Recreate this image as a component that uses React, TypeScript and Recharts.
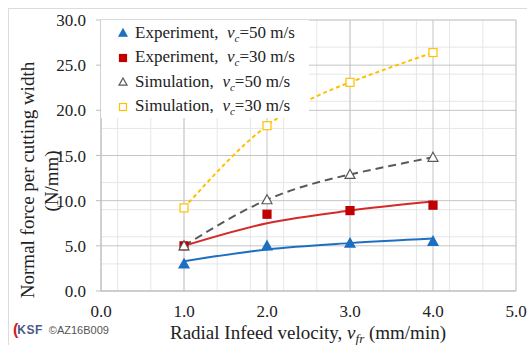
import React from "react";
import { ComposedChart, Line, XAxis, YAxis, CartesianGrid, Legend } from "recharts";

const velocities = [1, 2, 3, 4];
const exp50 = [3.0, 5.0, 5.3, 5.5];
const exp30 = [5.0, 8.5, 8.9, 9.5];
const sim50 = [5.0, 10.1, 12.9, 14.8];
const sim30 = [9.2, 18.3, 23.1, 26.4];
const fit50 = [3.3, 4.6, 5.3, 5.8];
const fit30 = [5.0, 7.5, 8.9, 9.9];
const xTicks = [0, 1, 2, 3, 4, 5];
const yTicks = [0, 5, 10, 15, 20, 25, 30];
const xMinor = Array.from({ length: 26 }, (_, i) => i * 0.2);
const yMinor = Array.from({ length: 31 }, (_, i) => i);

const data = velocities.map((x, i) => ({
  x,
  exp50: exp50[i],
  exp30: exp30[i],
  sim50: sim50[i],
  sim30: sim30[i],
  fit50: fit50[i],
  fit30: fit30[i],
}));

const FONT = "'Liberation Serif', 'Times New Roman', serif";
const BLUE = "#1f6fc0";
const RED = "#c00000";
const RED_LINE = "#d42a2a";
const GRAY = "#595959";
const YELLOW = "#ffc000";

const tri = (cx: number, cy: number, r: number) =>
  `M${cx},${cy - r} L${cx + r},${cy + r * 0.8} L${cx - r},${cy + r * 0.8} Z`;

const TriDot = (props: any) => {
  const { cx, cy, index, hollow, color } = props;
  if (cx == null || cy == null) return <g key={index} />;
  return (
    <path
      key={index}
      d={tri(cx, cy, 5)}
      fill={hollow ? "#fff" : color}
      stroke={color}
      strokeWidth={1.2}
    />
  );
};

const SqDot = (props: any) => {
  const { cx, cy, index, hollow, color } = props;
  if (cx == null || cy == null) return <g key={index} />;
  return (
    <rect
      key={index}
      x={cx - 4}
      y={cy - 4}
      width={8}
      height={8}
      fill={hollow ? "#fff" : color}
      stroke={color}
      strokeWidth={1.2}
    />
  );
};

const legendRows = [
  { name: "Experiment,", vc: "50", shape: "tri", hollow: false, color: BLUE },
  { name: "Experiment,", vc: "30", shape: "sq", hollow: false, color: RED },
  { name: "Simulation,", vc: "50", shape: "tri", hollow: true, color: GRAY },
  { name: "Simulation,", vc: "30", shape: "sq", hollow: true, color: YELLOW },
];

const LegendBox = () => (
  <div
    style={{
      width: 208,
      height: 98,
      background: "#fff",
      fontFamily: FONT,
      fontSize: 17,
      color: "#222",
      paddingTop: 1,
      boxSizing: "border-box",
    }}
  >
    {legendRows.map((r, i) => (
      <div key={i} style={{ height: 24.5, display: "flex", alignItems: "center", whiteSpace: "pre" }}>
        <svg width={34} height={14} style={{ flexShrink: 0 }}>
          {r.shape === "tri" ? (
            <path d={tri(22, 7, 4)} fill={r.hollow ? "#fff" : r.color} stroke={r.color} strokeWidth={1.2} />
          ) : (
            <rect x={18.5} y={3.5} width={7} height={7} fill={r.hollow ? "#fff" : r.color} stroke={r.color} strokeWidth={1.2} />
          )}
        </svg>
        <span>
          {r.name + "  "}
          <i>v</i>
          <sub style={{ fontSize: 11, fontStyle: "italic" }}>c</sub>={r.vc} m/s
        </span>
      </div>
    ))}
  </div>
);

const YTitle = () => (
  <g fontFamily={FONT} fontSize={19} fill="#222">
    <text x={27} y={180} textAnchor="middle" dominantBaseline="central" transform="rotate(-90 27 180)">
      Normal  force per cutting width
    </text>
    <text x={51} y={181} textAnchor="middle" dominantBaseline="central" transform="rotate(-90 51 181)">
      (N/mm)
    </text>
  </g>
);

const XTitle = () => (
  <text x={308} y={339} textAnchor="middle" fontFamily={FONT} fontSize={19} fill="#222">
    Radial Infeed velocity, <tspan fontStyle="italic">v</tspan>
    <tspan fontStyle="italic" fontSize={13} dy={4}>fr</tspan>
    <tspan dy={-4}> (mm/min)</tspan>
  </text>
);

export default function App() {
  const tickStyle = { fontFamily: FONT, fontSize: 17, fill: "#222" };
  return (
    <div style={{ position: "absolute", left: 0, top: 0, width: 527, height: 345, background: "#fff", overflow: "hidden" }}>
      <div
        style={{
          position: "absolute",
          left: 8,
          top: 8,
          width: 540,
          height: 360,
          borderTop: "1px solid #dcdcdc",
          borderLeft: "1px solid #dcdcdc",
        }}
      />
      <div style={{ position: "absolute", left: 0, top: 0 }}>
        <ComposedChart width={527} height={345} data={data} margin={{ top: 20, right: 11, left: 0, bottom: 0 }}>
          <CartesianGrid
            stroke="#e6e6e6"
            strokeWidth={1}
            horizontalValues={yMinor}
            verticalValues={xMinor}
          />
          <CartesianGrid
            stroke="#c4c4c4"
            strokeWidth={1}
            horizontalValues={yTicks}
            verticalValues={xTicks}
          />
          <XAxis
            type="number"
            dataKey="x"
            domain={[0, 5]}
            ticks={xTicks}
            tickFormatter={(v: number) => v.toFixed(1)}
            tick={tickStyle}
            tickLine={false}
            tickMargin={8}
            axisLine={{ stroke: "#bfbfbf" }}
            height={54}
            label={{ content: XTitle }}
          />
          <YAxis
            type="number"
            domain={[0, 30]}
            ticks={yTicks}
            tickFormatter={(v: number) => v.toFixed(1)}
            tick={tickStyle}
            tickSize={5}
            tickMargin={10}
            tickLine={{ stroke: "#bfbfbf" }}
            axisLine={{ stroke: "#bfbfbf" }}
            width={101}
            label={{ content: YTitle }}
          />
          <Legend
            verticalAlign="middle"
            align="center"
            layout="horizontal"
            wrapperStyle={{ left: 101, top: 20, width: 208, height: 98 }}
            content={LegendBox}
          />
          <Line dataKey="fit50" type="monotone" stroke={BLUE} strokeWidth={2} dot={false} activeDot={false} isAnimationActive={false} />
          <Line dataKey="fit30" type="monotone" stroke={RED_LINE} strokeWidth={2} dot={false} activeDot={false} isAnimationActive={false} />
          <Line
            dataKey="exp50"
            stroke="none"
            dot={(p: any) => <TriDot {...p} key={p.index} color={BLUE} hollow={false} />}
            activeDot={false}
            isAnimationActive={false}
          />
          <Line
            dataKey="exp30"
            stroke="none"
            dot={(p: any) => <SqDot {...p} key={p.index} color={RED} hollow={false} />}
            activeDot={false}
            isAnimationActive={false}
          />
          <Line
            dataKey="sim50"
            type="natural"
            stroke={GRAY}
            strokeWidth={2}
            strokeDasharray="8 5"
            dot={(p: any) => <TriDot {...p} key={p.index} color={GRAY} hollow={true} />}
            activeDot={false}
            isAnimationActive={false}
          />
          <Line
            dataKey="sim30"
            type="natural"
            stroke={YELLOW}
            strokeWidth={2}
            strokeDasharray="4 3"
            dot={(p: any) => <SqDot {...p} key={p.index} color={YELLOW} hollow={true} />}
            activeDot={false}
            isAnimationActive={false}
          />
        </ComposedChart>
      </div>
      <div style={{ position: "absolute", left: 13, top: 321, display: "flex", alignItems: "center", fontFamily: "'Liberation Sans', Arial, sans-serif" }}>
        <span style={{ color: "#d0202a", fontSize: 16, fontWeight: 700, marginRight: -1 }}>(</span>
        <span style={{ color: "#4a5a8a", fontSize: 12, fontWeight: 700, letterSpacing: 0.5 }}>KSF</span>
        <span style={{ color: "#555", fontSize: 11, marginLeft: 6 }}>©AZ16B009</span>
      </div>
    </div>
  );
}
